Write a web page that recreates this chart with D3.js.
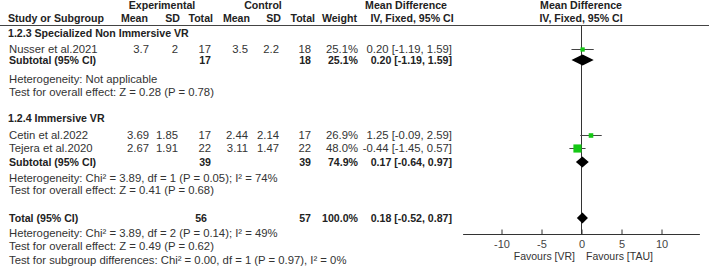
<!DOCTYPE html>
<html lang="en">
<head>
  <meta charset="UTF-8" />
  <title>Forest plot: Mean Difference</title>
  <style>
    body { margin: 0; background: #fff; }
    svg { display: block; font-family: "Liberation Sans", Arial, sans-serif; }
    .t { font-size: 11.3px; fill: #333; }
    .b { font-size: 10.6px; font-weight: bold; fill: #222; }
  </style>
</head>
<body>
  <svg id="forest"></svg>

  <script src="https://d3js.org/d3.v7.min.js"></script>
  <script>
    const W = 709, H = 269;

    // ---- data ----
    const subgroupNames = ["1.2.3 Specialized Non Immersive VR", "1.2.4 Immersive VR"];
    const studyNames = ["Nusser et al.2021", "Cetin et al.2022", "Tejera et al.2020"];
    const studyGroup = [0, 1, 1];
    const expMean = ["3.7", "3.69", "2.67"];
    const expSD = ["2", "1.85", "1.91"];
    const expTotal = [17, 17, 22];
    const ctlMean = ["3.5", "2.44", "3.11"];
    const ctlSD = ["2.2", "2.14", "1.47"];
    const ctlTotal = [18, 17, 22];
    const weights = [25.1, 26.9, 48.0];
    const md = [0.20, 1.25, -0.44];
    const ciLow = [-1.19, -0.09, -1.45];
    const ciHigh = [1.59, 2.59, 0.57];

    const subExpTotal = [17, 39];
    const subCtlTotal = [18, 39];
    const subWeight = [25.1, 74.9];
    const subMd = [0.20, 0.17];
    const subLow = [-1.19, -0.64];
    const subHigh = [1.59, 0.97];
    const subHet = [
      "Heterogeneity: Not applicable",
      "Heterogeneity: Chi\u00b2 = 3.89, df = 1 (P = 0.05); I\u00b2 = 74%"
    ];
    const subTest = [
      "Test for overall effect: Z = 0.28 (P = 0.78)",
      "Test for overall effect: Z = 0.41 (P = 0.68)"
    ];

    const totalExp = 56, totalCtl = 57, totalWeight = 100.0;
    const totalMd = 0.18, totalLow = -0.52, totalHigh = 0.87;
    const totalNotes = [
      "Heterogeneity: Chi\u00b2 = 3.89, df = 2 (P = 0.14); I\u00b2 = 49%",
      "Test for overall effect: Z = 0.49 (P = 0.62)",
      "Test for subgroup differences: Chi\u00b2 = 0.00, df = 1 (P = 0.97), I\u00b2 = 0%"
    ];

    const axisTicks = [-10, -5, 0, 5, 10];
    const favours = ["Favours [VR]", "Favours [TAU]"];

    // ---- layout (table baselines) ----
    const rowBase = {
      head1: 9, head2: 22,
      groups: [
        { title: 37, studies: [53], sub: 64, het: 83, test: 96 },
        { title: 122, studies: [139, 152], sub: 166, het: 182, test: 194 }
      ],
      total: 222, notes: [237, 250, 264]
    };
    const col = { name: 9, expMean: 149, expSD: 178, expTot: 211, ctlMean: 248, ctlSD: 279, ctlTot: 311, weight: 358, ci: 452 };

    const svg = d3.select("#forest").attr("width", W).attr("height", H);

    const x = d3.scaleLinear().domain([-15, 15]).range([461, 701]);
    const axisY = 234;
    const mid = y => y - 4;

    function txt(xp, y, s, cls, anchor) {
      return svg.append("text").attr("class", cls || "t")
        .attr("x", xp).attr("y", y)
        .attr("text-anchor", anchor || "start")
        .text(s);
    }
    const fmt2 = v => v.toFixed(2);
    const ciText = (m, l, h) => `${fmt2(m)} [${fmt2(l)}, ${fmt2(h)}]`;

    // headers
    txt(162, rowBase.head1, "Experimental", "b", "middle");
    txt(263, rowBase.head1, "Control", "b", "middle");
    txt(406, rowBase.head1, "Mean Difference", "b", "middle");
    txt(581, rowBase.head1, "Mean Difference", "b", "middle");
    txt(col.name - 1, rowBase.head2, "Study or Subgroup", "b");
    txt(148, rowBase.head2, "Mean", "b", "end");
    txt(180, rowBase.head2, "SD", "b", "end");
    txt(213, rowBase.head2, "Total", "b", "end");
    txt(250, rowBase.head2, "Mean", "b", "end");
    txt(281, rowBase.head2, "SD", "b", "end");
    txt(315, rowBase.head2, "Total", "b", "end");
    txt(357, rowBase.head2, "Weight", "b", "end");
    txt(412, rowBase.head2, "IV, Fixed, 95% CI", "b", "middle");
    txt(581, rowBase.head2, "IV, Fixed, 95% CI", "b", "middle");

    svg.append("line").attr("x1", 0).attr("x2", W).attr("y1", 25.5).attr("y2", 25.5)
      .attr("stroke", "#444").attr("stroke-width", 1);

    // zero line
    svg.append("line").attr("x1", x(0) + 0.5).attr("x2", x(0) + 0.5)
      .attr("y1", 26).attr("y2", axisY)
      .attr("stroke", "#333").attr("stroke-width", 1);

    const green = "#14c814";

    function diamond(y, m, l, h) {
      const c = mid(y), hh = 5.5;
      svg.append("path")
        .attr("d", `M${x(l)},${c} L${x(m)},${c - hh} L${x(h)},${c} L${x(m)},${c + hh} Z`)
        .attr("fill", "#000");
    }

    subgroupNames.forEach((g, gi) => {
      const L = rowBase.groups[gi];
      txt(col.name - 1, L.title, g, "b");
      const idx = studyNames.map((_, i) => i).filter(i => studyGroup[i] === gi);
      idx.forEach((i, k) => {
        const y = L.studies[k];
        txt(col.name, y, studyNames[i]);
        txt(col.expMean, y, expMean[i], "t", "end");
        txt(col.expSD, y, expSD[i], "t", "end");
        txt(col.expTot, y, expTotal[i], "t", "end");
        txt(col.ctlMean, y, ctlMean[i], "t", "end");
        txt(col.ctlSD, y, ctlSD[i], "t", "end");
        txt(col.ctlTot, y, ctlTotal[i], "t", "end");
        txt(col.weight, y, weights[i].toFixed(1) + "%", "t", "end");
        txt(col.ci, y, ciText(md[i], ciLow[i], ciHigh[i]), "t", "end");

        const c = mid(y);
        svg.append("line").attr("x1", x(ciLow[i])).attr("x2", x(ciHigh[i]))
          .attr("y1", c + 0.5).attr("y2", c + 0.5)
          .attr("stroke", "#444").attr("stroke-width", 1);
        const s = weights[i] * 0.17;
        svg.append("rect").attr("x", x(md[i]) - s / 2).attr("y", c + 0.5 - s / 2)
          .attr("width", s).attr("height", s).attr("fill", green);
      });

      txt(col.name, L.sub, "Subtotal (95% CI)", "b");
      txt(col.expTot, L.sub, subExpTotal[gi], "b", "end");
      txt(col.ctlTot, L.sub, subCtlTotal[gi], "b", "end");
      txt(col.weight, L.sub, subWeight[gi].toFixed(1) + "%", "b", "end");
      txt(col.ci, L.sub, ciText(subMd[gi], subLow[gi], subHigh[gi]), "b", "end");
      diamond(L.sub, subMd[gi], subLow[gi], subHigh[gi]);

      txt(col.name, L.het, subHet[gi]);
      txt(col.name, L.test, subTest[gi]);
    });

    // total
    txt(col.name, rowBase.total, "Total (95% CI)", "b");
    txt(col.expTot - 4, rowBase.total, totalExp, "b", "end");
    txt(col.ctlTot, rowBase.total, totalCtl, "b", "end");
    txt(col.weight, rowBase.total, totalWeight.toFixed(1) + "%", "b", "end");
    txt(col.ci, rowBase.total, ciText(totalMd, totalLow, totalHigh), "b", "end");
    diamond(rowBase.total, totalMd, totalLow, totalHigh);
    totalNotes.forEach((n, i) => txt(col.name, rowBase.notes[i], n));

    // axis
    const axis = d3.axisTop(x).tickValues(axisTicks).tickSize(5).tickFormat(d => String(d));
    const ag = svg.append("g").attr("transform", `translate(0.5,${axisY + 0.5})`).call(axis);
    ag.select(".domain").attr("d", `M${x(-14.8)},0H${x(14.8)}`).attr("stroke", "#333");
    ag.selectAll(".tick line").attr("stroke", "#333");
    ag.selectAll(".tick text").attr("y", 13).attr("dy", null)
      .attr("font-family", "Liberation Sans, Arial, sans-serif")
      .attr("font-size", 11).attr("fill", "#444");
    txt(x(0) - 6, 260, favours[0], "t", "end").style("font-size", "10.5px");
    txt(x(0) + 5, 260, favours[1], "t", "start").style("font-size", "10.5px");
  </script>
</body>
</html>
